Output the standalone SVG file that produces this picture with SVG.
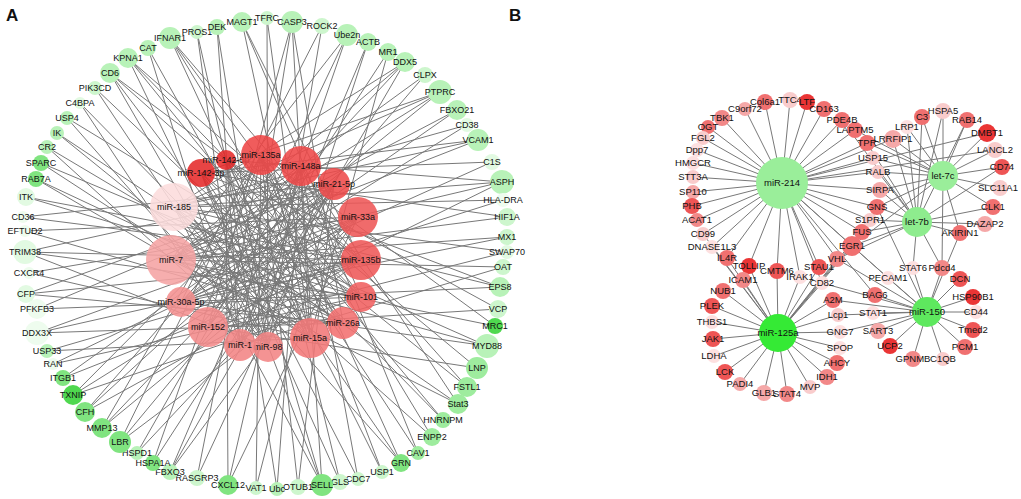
<svg xmlns="http://www.w3.org/2000/svg" width="1021" height="499" viewBox="0 0 1021 499">
<style>
text{font-family:"Liberation Sans",Arial,sans-serif;fill:#111;text-anchor:middle}
.la{font-size:9px}
.lb{font-size:9.5px}
.mi{font-size:9px}
.pl{font-size:17px;font-weight:bold;text-anchor:start}
.e{stroke:#787878;stroke-width:1;fill:none}
.g0{fill:#eefcee}.g1{fill:#e2fae2}.g2{fill:#cdf6cd}.g3{fill:#b8f2b8}.g4{fill:#9eec9e}.g5{fill:#80e480}.g6{fill:#4fd84f}
.r0{fill:#fde0e0}.r1{fill:#f9cccc}.r2{fill:#f5a8a8}.r3{fill:#f28888}.r4{fill:#f07070}.r5{fill:#ee5555}.r6{fill:#ea3535}
.m{fill-opacity:.88}
</style>
<rect width="1021" height="499" fill="#fff"/>
<text class="pl" x="6" y="21">A</text>
<text class="pl" x="509" y="21">B</text>
<g id="connectors">
<path class="e" d="M242 22L310 338M242 22L361 260M242 22L361 297M267 18L268 347M267 18L310 338M292 22L240 345M292 22L208 327M292 22L310 338M292 22L343 323M322 26L181 302M322 26L268 347M347 35L208 327M347 35L171 260M347 35L240 345M368 42L240 345M368 42L268 347M388 52L208 327M388 52L310 338M405 62L181 302M405 62L171 260M405 62L174 207M405 62L240 345M425 75L171 260M425 75L208 327M440 92L174 207M440 92L171 260M440 92L181 302M440 92L201 173M457 110L171 260M457 110L181 302M467 125L174 207M467 125L181 302M478 140L171 260M478 140L174 207M478 140L201 173M492 162L201 173M492 162L181 302M502 182L174 207M502 182L171 260M502 182L226 160M502 182L208 327M503 200L174 207M503 200L181 302M507 217L201 173M507 217L171 260M507 237L171 260M507 237L181 302M507 252L174 207M507 252L208 327M503 267L171 260M503 267L240 345M500 287L201 173M500 287L174 207M500 287L181 302M498 309L226 160M498 309L208 327M495 326L261 155M495 326L171 260M487 346L174 207M487 346L171 260M487 346L181 302M477 368L226 160M477 368L208 327M467 387L201 173M467 387L261 155M458 404L174 207M458 404L301 166M458 404L171 260M443 420L226 160M443 420L201 173M432 437L261 155M432 437L174 207M418 453L226 160M418 453L301 166M401 463L174 207M401 463L201 173M401 463L261 155M382 472L261 155M382 472L226 160M358 479L301 166M358 479L201 173M340 482L261 155M340 482L201 173M322 485L201 173M322 485L226 160M322 485L301 166M322 485L174 207M298 487L261 155M298 487L334 184M277 489L301 166M277 489L226 160M256 488L334 184M256 488L261 155M228 485L226 160M228 485L301 166M228 485L358 217M197 478L261 155M197 478L334 184M170 472L301 166M170 472L358 217M170 472L334 184M153 463L334 184M153 463L261 155M137 453L358 217M137 453L301 166M120 442L361 260M120 442L334 184M120 442L261 155M102 428L358 217M102 428L261 155M102 428L334 184M85 412L334 184M85 412L361 260M85 412L301 166M73 395L358 217M73 395L361 297M73 395L301 166M63 378L361 260M63 378L334 184M53 364L361 297M53 364L358 217M47 351L310 338M47 351L361 260M37 333L361 260M37 333L343 323M37 333L358 217M37 309L361 297M37 309L334 184M26 294L343 323M26 294L361 260M26 294L334 184M29 273L310 338M29 273L358 217M25 252L361 297M25 252L361 260M25 252L334 184M25 252L268 347M25 231L358 217M25 231L343 323M23 217L334 184M23 217L361 260M26 197L361 260M26 197L361 297M36 179L343 323M36 179L310 338M41 163L310 338M41 163L361 297M47 147L268 347M47 147L343 323M57 133L343 323M57 133L310 338M67 118L361 297M67 118L268 347M80 103L310 338M80 103L240 345M95 88L268 347M95 88L343 323M110 73L361 297M110 73L310 338M110 73L361 260M110 73L268 347M128 58L343 323M128 58L361 260M128 58L361 297M128 58L268 347M148 48L310 338M148 48L240 345M170 38L361 260M170 38L343 323M170 38L361 297M170 38L310 338M197 32L268 347M197 32L240 345M217 27L240 345M217 27L268 347"/>
<path class="e" d="M782 183L765 102M782 183L790 100M782 183L807 102M782 183L824 109M782 183L745 109M782 183L722 118M782 183L708 127M782 183L703 138M782 183L697 150M782 183L693 163M782 183L693 177M782 183L693 192M782 183L692 206M782 183L697 220M782 183L703 234M782 183L712 247M782 183L727 258M782 183L749 266M782 183L777 271M782 183L800 277M782 183L819 267M782 183L837 259M782 183L852 246M782 183L862 232M782 183L870 220M782 183L877 207M782 183L880 190M782 183L878 172M782 183L873 158M782 183L867 143M782 183L855 130M782 183L842 120M782 183L987 133M782 183L995 150M782 183L893 139M782 183L822 283M782 183L888 278M782 183L875 295"/>
<path class="e" d="M943 176L907 127M943 176L922 117M943 176L943 111M943 176L967 120M943 176L987 133M943 176L995 150M943 176L1002 167M943 176L1000 188M943 176L993 207M943 176L893 139M943 176L867 143M943 176L873 158M943 176L878 172M943 176L880 190M943 176L960 233M943 176L942 268M943 176L877 207M943 176L852 246M943 176L855 130"/>
<path class="e" d="M917 222L893 139M917 222L907 127M917 222L922 117M917 222L943 111M917 222L967 120M917 222L867 143M917 222L878 172M917 222L880 190M917 222L877 207M917 222L870 220M917 222L862 232M917 222L852 246M917 222L837 259M917 222L960 233M917 222L985 224M917 222L993 207M917 222L1002 167M917 222L942 268M917 222L913 268M917 222L842 120"/>
<path class="e" d="M778 333L727 258M778 333L749 266M778 333L743 280M778 333L723 291M778 333L712 306M778 333L712 322M778 333L713 339M778 333L714 356M778 333L725 372M778 333L740 384M778 333L764 393M778 333L787 394M778 333L810 387M778 333L827 377M778 333L837 363M778 333L840 348M778 333L840 332M778 333L838 315M778 333L833 300M778 333L822 283M778 333L800 277M778 333L777 271M778 333L819 267M778 333L837 259M778 333L852 246M778 333L862 232M778 333L870 220M778 333L712 247M778 333L703 234"/>
<path class="e" d="M927 312L913 268M927 312L942 268M927 312L960 279M927 312L973 297M927 312L976 312M927 312L973 330M927 312L965 347M927 312L943 359M927 312L913 359M927 312L890 346M927 312L878 331M927 312L873 313M927 312L875 295M927 312L888 278M927 312L833 300M927 312L837 259M927 312L852 246M927 312L838 315M927 312L840 332M927 312L822 283M927 312L960 233M927 312L877 207"/>
</g>
<g id="panelA-genes">
<g id="n-MAGT1"><circle cx="242" cy="22" r="10" class="g3"/><text class="la" x="242" y="25">MAGT1</text></g>
<g id="n-TFRC"><circle cx="267" cy="18" r="7" class="g2"/><text class="la" x="267" y="21">TFRC</text></g>
<g id="n-CASP3"><circle cx="292" cy="22" r="11" class="g3"/><text class="la" x="292" y="25">CASP3</text></g>
<g id="n-ROCK2"><circle cx="322" cy="26" r="8" class="g2"/><text class="la" x="322" y="29">ROCK2</text></g>
<g id="n-Ube2n"><circle cx="347" cy="35" r="11" class="g3"/><text class="la" x="347" y="38">Ube2n</text></g>
<g id="n-ACTB"><circle cx="368" cy="42" r="9" class="g3"/><text class="la" x="368" y="45">ACTB</text></g>
<g id="n-MR1"><circle cx="388" cy="52" r="9" class="g3"/><text class="la" x="388" y="55">MR1</text></g>
<g id="n-DDX5"><circle cx="405" cy="62" r="10" class="g3"/><text class="la" x="405" y="65">DDX5</text></g>
<g id="n-CLPX"><circle cx="425" cy="75" r="8" class="g2"/><text class="la" x="425" y="78">CLPX</text></g>
<g id="n-PTPRC"><circle cx="440" cy="92" r="12" class="g3"/><text class="la" x="440" y="95">PTPRC</text></g>
<g id="n-FBXO21"><circle cx="457" cy="110" r="10" class="g3"/><text class="la" x="457" y="113">FBXO21</text></g>
<g id="n-CD38"><circle cx="467" cy="125" r="7" class="g1"/><text class="la" x="467" y="128">CD38</text></g>
<g id="n-VCAM1"><circle cx="478" cy="140" r="11" class="g3"/><text class="la" x="478" y="143">VCAM1</text></g>
<g id="n-C1S"><circle cx="492" cy="162" r="8" class="g1"/><text class="la" x="492" y="165">C1S</text></g>
<g id="n-ASPH"><circle cx="502" cy="182" r="12" class="g3"/><text class="la" x="502" y="185">ASPH</text></g>
<g id="n-HLA-DRA"><circle cx="503" cy="200" r="7" class="g0"/><text class="la" x="503" y="203">HLA-DRA</text></g>
<g id="n-HIF1A"><circle cx="507" cy="217" r="9" class="g2"/><text class="la" x="507" y="220">HIF1A</text></g>
<g id="n-MX1"><circle cx="507" cy="237" r="8" class="g2"/><text class="la" x="507" y="240">MX1</text></g>
<g id="n-SWAP70"><circle cx="507" cy="252" r="7" class="g1"/><text class="la" x="507" y="255">SWAP70</text></g>
<g id="n-OAT"><circle cx="503" cy="267" r="8" class="g2"/><text class="la" x="503" y="270">OAT</text></g>
<g id="n-EPS8"><circle cx="500" cy="287" r="10" class="g3"/><text class="la" x="500" y="290">EPS8</text></g>
<g id="n-VCP"><circle cx="498" cy="309" r="9" class="g2"/><text class="la" x="498" y="312">VCP</text></g>
<g id="n-MRC1"><circle cx="495" cy="326" r="8" class="g6"/><text class="la" x="495" y="329">MRC1</text></g>
<g id="n-MYD88"><circle cx="487" cy="346" r="12" class="g3"/><text class="la" x="487" y="349">MYD88</text></g>
<g id="n-LNP"><circle cx="477" cy="368" r="11" class="g4"/><text class="la" x="477" y="371">LNP</text></g>
<g id="n-FSTL1"><circle cx="467" cy="387" r="10" class="g4"/><text class="la" x="467" y="390">FSTL1</text></g>
<g id="n-Stat3"><circle cx="458" cy="404" r="10" class="g4"/><text class="la" x="458" y="407">Stat3</text></g>
<g id="n-HNRNPM"><circle cx="443" cy="420" r="8" class="g4"/><text class="la" x="443" y="423">HNRNPM</text></g>
<g id="n-ENPP2"><circle cx="432" cy="437" r="9" class="g4"/><text class="la" x="432" y="440">ENPP2</text></g>
<g id="n-CAV1"><circle cx="418" cy="453" r="7" class="g4"/><text class="la" x="418" y="456">CAV1</text></g>
<g id="n-GRN"><circle cx="401" cy="463" r="9" class="g5"/><text class="la" x="401" y="466">GRN</text></g>
<g id="n-USP1"><circle cx="382" cy="472" r="7" class="g2"/><text class="la" x="382" y="475">USP1</text></g>
<g id="n-CDC7"><circle cx="358" cy="479" r="7" class="g2"/><text class="la" x="358" y="482">CDC7</text></g>
<g id="n-GLS"><circle cx="340" cy="482" r="8" class="g2"/><text class="la" x="340" y="485">GLS</text></g>
<g id="n-SELL"><circle cx="322" cy="485" r="11" class="g5"/><text class="la" x="322" y="488">SELL</text></g>
<g id="n-OTUB1"><circle cx="298" cy="487" r="8" class="g2"/><text class="la" x="298" y="490">OTUB1</text></g>
<g id="n-Ubc"><circle cx="277" cy="489" r="7" class="g3"/><text class="la" x="277" y="492">Ubc</text></g>
<g id="n-VAT1"><circle cx="256" cy="488" r="7" class="g2"/><text class="la" x="256" y="491">VAT1</text></g>
<g id="n-CXCL12"><circle cx="228" cy="485" r="10" class="g5"/><text class="la" x="228" y="488">CXCL12</text></g>
<g id="n-RASGRP3"><circle cx="197" cy="478" r="8" class="g2"/><text class="la" x="197" y="481">RASGRP3</text></g>
<g id="n-FBXO3"><circle cx="170" cy="472" r="8" class="g3"/><text class="la" x="170" y="475">FBXO3</text></g>
<g id="n-HSPA1A"><circle cx="153" cy="463" r="8" class="g5"/><text class="la" x="153" y="466">HSPA1A</text></g>
<g id="n-HSPD1"><circle cx="137" cy="453" r="7" class="g3"/><text class="la" x="137" y="456">HSPD1</text></g>
<g id="n-LBR"><circle cx="120" cy="442" r="11" class="g5"/><text class="la" x="120" y="445">LBR</text></g>
<g id="n-MMP13"><circle cx="102" cy="428" r="10" class="g5"/><text class="la" x="102" y="431">MMP13</text></g>
<g id="n-CFH"><circle cx="85" cy="412" r="10" class="g5"/><text class="la" x="85" y="415">CFH</text></g>
<g id="n-TXNIP"><circle cx="73" cy="395" r="10" class="g6"/><text class="la" x="73" y="398">TXNIP</text></g>
<g id="n-ITGB1"><circle cx="63" cy="378" r="8" class="g5"/><text class="la" x="63" y="381">ITGB1</text></g>
<g id="n-RAN"><circle cx="53" cy="364" r="6" class="g0"/><text class="la" x="53" y="367">RAN</text></g>
<g id="n-USP33"><circle cx="47" cy="351" r="7" class="g3"/><text class="la" x="47" y="354">USP33</text></g>
<g id="n-DDX3X"><circle cx="37" cy="333" r="12" class="g0"/><text class="la" x="37" y="336">DDX3X</text></g>
<g id="n-PFKFB3"><circle cx="37" cy="309" r="10" class="g0"/><text class="la" x="37" y="312">PFKFB3</text></g>
<g id="n-CFP"><circle cx="26" cy="294" r="9" class="g1"/><text class="la" x="26" y="297">CFP</text></g>
<g id="n-CXCR4"><circle cx="29" cy="273" r="6" class="g0"/><text class="la" x="29" y="276">CXCR4</text></g>
<g id="n-TRIM38"><circle cx="25" cy="252" r="12" class="g1"/><text class="la" x="25" y="255">TRIM38</text></g>
<g id="n-EFTUD2"><circle cx="25" cy="231" r="6" class="g0"/><text class="la" x="25" y="234">EFTUD2</text></g>
<g id="n-CD36"><circle cx="23" cy="217" r="6" class="g0"/><text class="la" x="23" y="220">CD36</text></g>
<g id="n-ITK"><circle cx="26" cy="197" r="9" class="g1"/><text class="la" x="26" y="200">ITK</text></g>
<g id="n-RAB7A"><circle cx="36" cy="179" r="8" class="g5"/><text class="la" x="36" y="182">RAB7A</text></g>
<g id="n-SPARC"><circle cx="41" cy="163" r="8" class="g5"/><text class="la" x="41" y="166">SPARC</text></g>
<g id="n-CR2"><circle cx="47" cy="147" r="7" class="g3"/><text class="la" x="47" y="150">CR2</text></g>
<g id="n-IK"><circle cx="57" cy="133" r="7" class="g3"/><text class="la" x="57" y="136">IK</text></g>
<g id="n-USP4"><circle cx="67" cy="118" r="7" class="g3"/><text class="la" x="67" y="121">USP4</text></g>
<g id="n-C4BPA"><circle cx="80" cy="103" r="6" class="g1"/><text class="la" x="80" y="106">C4BPA</text></g>
<g id="n-PIK3CD"><circle cx="95" cy="88" r="7" class="g2"/><text class="la" x="95" y="91">PIK3CD</text></g>
<g id="n-CD6"><circle cx="110" cy="73" r="10" class="g3"/><text class="la" x="110" y="76">CD6</text></g>
<g id="n-KPNA1"><circle cx="128" cy="58" r="10" class="g3"/><text class="la" x="128" y="61">KPNA1</text></g>
<g id="n-CAT"><circle cx="148" cy="48" r="8" class="g3"/><text class="la" x="148" y="51">CAT</text></g>
<g id="n-IFNAR1"><circle cx="170" cy="38" r="11" class="g3"/><text class="la" x="170" y="41">IFNAR1</text></g>
<g id="n-PROS1"><circle cx="197" cy="32" r="7" class="g2"/><text class="la" x="197" y="35">PROS1</text></g>
<g id="n-DEK"><circle cx="217" cy="27" r="8" class="g3"/><text class="la" x="217" y="30">DEK</text></g>
</g>
<g id="panelA-mirnas">
<g id="n-miR-142-3p"><circle class="m" cx="201" cy="173" r="14" fill="#e52a2a"/><text class="mi" x="201" y="176">miR-142-3p</text></g>
<g id="n-miR-142-5p"><circle class="m" cx="226" cy="160" r="10" fill="#e52a2a"/><text class="mi" x="226" y="163">miR-142-5p</text></g>
<g id="n-miR-135a"><circle class="m" cx="261" cy="155" r="20" fill="#ee4646"/><text class="mi" x="261" y="158">miR-135a</text></g>
<g id="n-miR-148a"><circle class="m" cx="301" cy="166" r="20" fill="#ee4848"/><text class="mi" x="301" y="169">miR-148a</text></g>
<g id="n-miR-21-5p"><circle class="m" cx="334" cy="184" r="16" fill="#ee4a4a"/><text class="mi" x="334" y="187">miR-21-5p</text></g>
<g id="n-miR-33a"><circle class="m" cx="358" cy="217" r="20" fill="#ee5656"/><text class="mi" x="358" y="220">miR-33a</text></g>
<g id="n-miR-135b"><circle class="m" cx="361" cy="260" r="20" fill="#ee5858"/><text class="mi" x="361" y="263">miR-135b</text></g>
<g id="n-miR-101"><circle class="m" cx="361" cy="297" r="15" fill="#f06060"/><text class="mi" x="361" y="300">miR-101</text></g>
<g id="n-miR-26a"><circle class="m" cx="343" cy="323" r="16" fill="#f27070"/><text class="mi" x="343" y="326">miR-26a</text></g>
<g id="n-miR-15a"><circle class="m" cx="310" cy="338" r="20" fill="#f27878"/><text class="mi" x="310" y="341">miR-15a</text></g>
<g id="n-miR-98"><circle class="m" cx="268" cy="347" r="15" fill="#f38484"/><text class="mi" x="268" y="350">miR-98</text></g>
<g id="n-miR-1"><circle class="m" cx="240" cy="345" r="16" fill="#f38484"/><text class="mi" x="240" y="348">miR-1</text></g>
<g id="n-miR-152"><circle class="m" cx="208" cy="327" r="20" fill="#f38a8a"/><text class="mi" x="208" y="330">miR-152</text></g>
<g id="n-miR-30a-5p"><circle class="m" cx="181" cy="302" r="15" fill="#f49090"/><text class="mi" x="181" y="305">miR-30a-5p</text></g>
<g id="n-miR-7"><circle class="m" cx="171" cy="260" r="25" fill="#f5a3a3"/><text class="mi" x="171" y="263">miR-7</text></g>
<g id="n-miR-185"><circle class="m" cx="174" cy="207" r="24" fill="#fcdcdc"/><text class="mi" x="174" y="210">miR-185</text></g>
</g>
<g id="panelB-genes">
<g id="b-Col6a1"><circle cx="765" cy="102" r="8" class="r4"/><text class="lb" x="765" y="105">Col6a1</text></g>
<g id="b-TTC4"><circle cx="790" cy="100" r="8" class="r1"/><text class="lb" x="790" y="103">TTC4</text></g>
<g id="b-LTF"><circle cx="807" cy="102" r="8" class="r6"/><text class="lb" x="807" y="105">LTF</text></g>
<g id="b-CD163"><circle cx="824" cy="109" r="8" class="r4"/><text class="lb" x="824" y="112">CD163</text></g>
<g id="b-C9orf72"><circle cx="745" cy="109" r="7" class="r2"/><text class="lb" x="745" y="112">C9orf72</text></g>
<g id="b-TBK1"><circle cx="722" cy="118" r="8" class="r3"/><text class="lb" x="722" y="121">TBK1</text></g>
<g id="b-OGT"><circle cx="708" cy="127" r="7" class="r4"/><text class="lb" x="708" y="130">OGT</text></g>
<g id="b-FGL2"><circle cx="703" cy="138" r="7" class="r1"/><text class="lb" x="703" y="141">FGL2</text></g>
<g id="b-Dpp7"><circle cx="697" cy="150" r="7" class="r0"/><text class="lb" x="697" y="153">Dpp7</text></g>
<g id="b-HMGCR"><circle cx="693" cy="163" r="7" class="r0"/><text class="lb" x="693" y="166">HMGCR</text></g>
<g id="b-STT3A"><circle cx="693" cy="177" r="7" class="r1"/><text class="lb" x="693" y="180">STT3A</text></g>
<g id="b-SP110"><circle cx="693" cy="192" r="7" class="r2"/><text class="lb" x="693" y="195">SP110</text></g>
<g id="b-PHB"><circle cx="692" cy="206" r="8" class="r5"/><text class="lb" x="692" y="209">PHB</text></g>
<g id="b-ACAT1"><circle cx="697" cy="220" r="7" class="r3"/><text class="lb" x="697" y="223">ACAT1</text></g>
<g id="b-CD99"><circle cx="703" cy="234" r="7" class="r1"/><text class="lb" x="703" y="237">CD99</text></g>
<g id="b-DNASE1L3"><circle cx="712" cy="247" r="7" class="r0"/><text class="lb" x="712" y="250">DNASE1L3</text></g>
<g id="b-IL4R"><circle cx="727" cy="258" r="8" class="r4"/><text class="lb" x="727" y="261">IL4R</text></g>
<g id="b-TOLLIP"><circle cx="749" cy="266" r="8" class="r6"/><text class="lb" x="749" y="269">TOLLIP</text></g>
<g id="b-CMTM6"><circle cx="777" cy="271" r="8" class="r5"/><text class="lb" x="777" y="274">CMTM6</text></g>
<g id="b-IRAK1"><circle cx="800" cy="277" r="7" class="r0"/><text class="lb" x="800" y="280">IRAK1</text></g>
<g id="b-STAU1"><circle cx="819" cy="267" r="8" class="r5"/><text class="lb" x="819" y="270">STAU1</text></g>
<g id="b-ICAM1"><circle cx="743" cy="280" r="8" class="r3"/><text class="lb" x="743" y="283">ICAM1</text></g>
<g id="b-NUB1"><circle cx="723" cy="291" r="8" class="r4"/><text class="lb" x="723" y="294">NUB1</text></g>
<g id="b-PLEK"><circle cx="712" cy="306" r="8" class="r5"/><text class="lb" x="712" y="309">PLEK</text></g>
<g id="b-THBS1"><circle cx="712" cy="322" r="7" class="r0"/><text class="lb" x="712" y="325">THBS1</text></g>
<g id="b-JAK1"><circle cx="713" cy="339" r="8" class="r5"/><text class="lb" x="713" y="342">JAK1</text></g>
<g id="b-LDHA"><circle cx="714" cy="356" r="7" class="r0"/><text class="lb" x="714" y="359">LDHA</text></g>
<g id="b-LCK"><circle cx="725" cy="372" r="8" class="r5"/><text class="lb" x="725" y="375">LCK</text></g>
<g id="b-PADI4"><circle cx="740" cy="384" r="7" class="r2"/><text class="lb" x="740" y="387">PADI4</text></g>
<g id="b-GLB1"><circle cx="764" cy="393" r="8" class="r2"/><text class="lb" x="764" y="396">GLB1</text></g>
<g id="b-STAT4"><circle cx="787" cy="394" r="8" class="r3"/><text class="lb" x="787" y="397">STAT4</text></g>
<g id="b-MVP"><circle cx="810" cy="387" r="7" class="r1"/><text class="lb" x="810" y="390">MVP</text></g>
<g id="b-IDH1"><circle cx="827" cy="377" r="8" class="r3"/><text class="lb" x="827" y="380">IDH1</text></g>
<g id="b-AHCY"><circle cx="837" cy="363" r="8" class="r4"/><text class="lb" x="837" y="366">AHCY</text></g>
<g id="b-SPOP"><circle cx="840" cy="348" r="7" class="r0"/><text class="lb" x="840" y="351">SPOP</text></g>
<g id="b-GNG7"><circle cx="840" cy="332" r="7" class="r0"/><text class="lb" x="840" y="335">GNG7</text></g>
<g id="b-Lcp1"><circle cx="838" cy="315" r="7" class="r1"/><text class="lb" x="838" y="318">Lcp1</text></g>
<g id="b-A2M"><circle cx="833" cy="300" r="8" class="r4"/><text class="lb" x="833" y="303">A2M</text></g>
<g id="b-CD82"><circle cx="822" cy="283" r="7" class="r0"/><text class="lb" x="822" y="286">CD82</text></g>
<g id="b-VHL"><circle cx="837" cy="259" r="8" class="r3"/><text class="lb" x="837" y="262">VHL</text></g>
<g id="b-EGR1"><circle cx="852" cy="246" r="10" class="r4"/><text class="lb" x="852" y="249">EGR1</text></g>
<g id="b-FUS"><circle cx="862" cy="232" r="8" class="r4"/><text class="lb" x="862" y="235">FUS</text></g>
<g id="b-S1PR1"><circle cx="870" cy="220" r="7" class="r1"/><text class="lb" x="870" y="223">S1PR1</text></g>
<g id="b-GNS"><circle cx="877" cy="207" r="8" class="r4"/><text class="lb" x="877" y="210">GNS</text></g>
<g id="b-SIRPA"><circle cx="880" cy="190" r="8" class="r2"/><text class="lb" x="880" y="193">SIRPA</text></g>
<g id="b-RALB"><circle cx="878" cy="172" r="7" class="r1"/><text class="lb" x="878" y="175">RALB</text></g>
<g id="b-USP15"><circle cx="873" cy="158" r="7" class="r1"/><text class="lb" x="873" y="161">USP15</text></g>
<g id="b-TPR"><circle cx="867" cy="143" r="8" class="r4"/><text class="lb" x="867" y="146">TPR</text></g>
<g id="b-LAPTM5"><circle cx="855" cy="130" r="8" class="r4"/><text class="lb" x="855" y="133">LAPTM5</text></g>
<g id="b-PDE4B"><circle cx="842" cy="120" r="8" class="r4"/><text class="lb" x="842" y="123">PDE4B</text></g>
<g id="b-LRRFIP1"><circle cx="893" cy="139" r="9" class="r2"/><text class="lb" x="893" y="142">LRRFIP1</text></g>
<g id="b-LRP1"><circle cx="907" cy="127" r="7" class="r0"/><text class="lb" x="907" y="130">LRP1</text></g>
<g id="b-C3"><circle cx="922" cy="117" r="8" class="r4"/><text class="lb" x="922" y="120">C3</text></g>
<g id="b-HSPA5"><circle cx="943" cy="111" r="8" class="r1"/><text class="lb" x="943" y="114">HSPA5</text></g>
<g id="b-RAB14"><circle cx="967" cy="120" r="8" class="r4"/><text class="lb" x="967" y="123">RAB14</text></g>
<g id="b-DMBT1"><circle cx="987" cy="133" r="9" class="r6"/><text class="lb" x="987" y="136">DMBT1</text></g>
<g id="b-LANCL2"><circle cx="995" cy="150" r="8" class="r1"/><text class="lb" x="995" y="153">LANCL2</text></g>
<g id="b-CD74"><circle cx="1002" cy="167" r="8" class="r5"/><text class="lb" x="1002" y="170">CD74</text></g>
<g id="b-SLC11A1"><circle cx="1000" cy="188" r="8" class="r1"/><text class="lb" x="998" y="191">SLC11A1</text></g>
<g id="b-CLK1"><circle cx="993" cy="207" r="8" class="r4"/><text class="lb" x="993" y="210">CLK1</text></g>
<g id="b-DAZAP2"><circle cx="985" cy="224" r="8" class="r2"/><text class="lb" x="985" y="227">DAZAP2</text></g>
<g id="b-AKIRIN1"><circle cx="960" cy="233" r="8" class="r4"/><text class="lb" x="960" y="236">AKIRIN1</text></g>
<g id="b-STAT6"><circle cx="913" cy="268" r="7" class="r0"/><text class="lb" x="913" y="271">STAT6</text></g>
<g id="b-Pdcd4"><circle cx="942" cy="268" r="8" class="r3"/><text class="lb" x="942" y="271">Pdcd4</text></g>
<g id="b-DCN"><circle cx="960" cy="279" r="8" class="r5"/><text class="lb" x="960" y="282">DCN</text></g>
<g id="b-HSP90B1"><circle cx="973" cy="297" r="8" class="r6"/><text class="lb" x="973" y="300">HSP90B1</text></g>
<g id="b-CD44"><circle cx="976" cy="312" r="7" class="r0"/><text class="lb" x="976" y="315">CD44</text></g>
<g id="b-Tmed2"><circle cx="973" cy="330" r="8" class="r5"/><text class="lb" x="973" y="333">Tmed2</text></g>
<g id="b-PCM1"><circle cx="965" cy="347" r="8" class="r4"/><text class="lb" x="965" y="350">PCM1</text></g>
<g id="b-C1QB"><circle cx="943" cy="359" r="7" class="r1"/><text class="lb" x="943" y="362">C1QB</text></g>
<g id="b-GPNMB"><circle cx="913" cy="359" r="8" class="r3"/><text class="lb" x="913" y="362">GPNMB</text></g>
<g id="b-UCP2"><circle cx="890" cy="346" r="8" class="r6"/><text class="lb" x="890" y="349">UCP2</text></g>
<g id="b-SART3"><circle cx="878" cy="331" r="8" class="r2"/><text class="lb" x="878" y="334">SART3</text></g>
<g id="b-STAT1"><circle cx="873" cy="313" r="7" class="r0"/><text class="lb" x="873" y="316">STAT1</text></g>
<g id="b-BAG6"><circle cx="875" cy="295" r="8" class="r4"/><text class="lb" x="875" y="298">BAG6</text></g>
<g id="b-PECAM1"><circle cx="888" cy="278" r="7" class="r0"/><text class="lb" x="888" y="281">PECAM1</text></g>
</g>
<g id="panelB-mirnas">
<g id="b-miR-214"><circle cx="782" cy="183" r="26" fill="#9aee9a"/><text class="lb" x="782" y="186">miR-214</text></g>
<g id="b-let-7c"><circle cx="943" cy="176" r="15" fill="#9aee9a"/><text class="lb" x="943" y="179">let-7c</text></g>
<g id="b-let-7b"><circle cx="917" cy="222" r="15" fill="#8eec8e"/><text class="lb" x="917" y="225">let-7b</text></g>
<g id="b-miR-125a"><circle cx="778" cy="333" r="19" fill="#35ea35"/><text class="lb" x="778" y="336">miR-125a</text></g>
<g id="b-miR-150"><circle cx="927" cy="312" r="15" fill="#5ee85e"/><text class="lb" x="927" y="315">miR-150</text></g>
</g>
</svg>
